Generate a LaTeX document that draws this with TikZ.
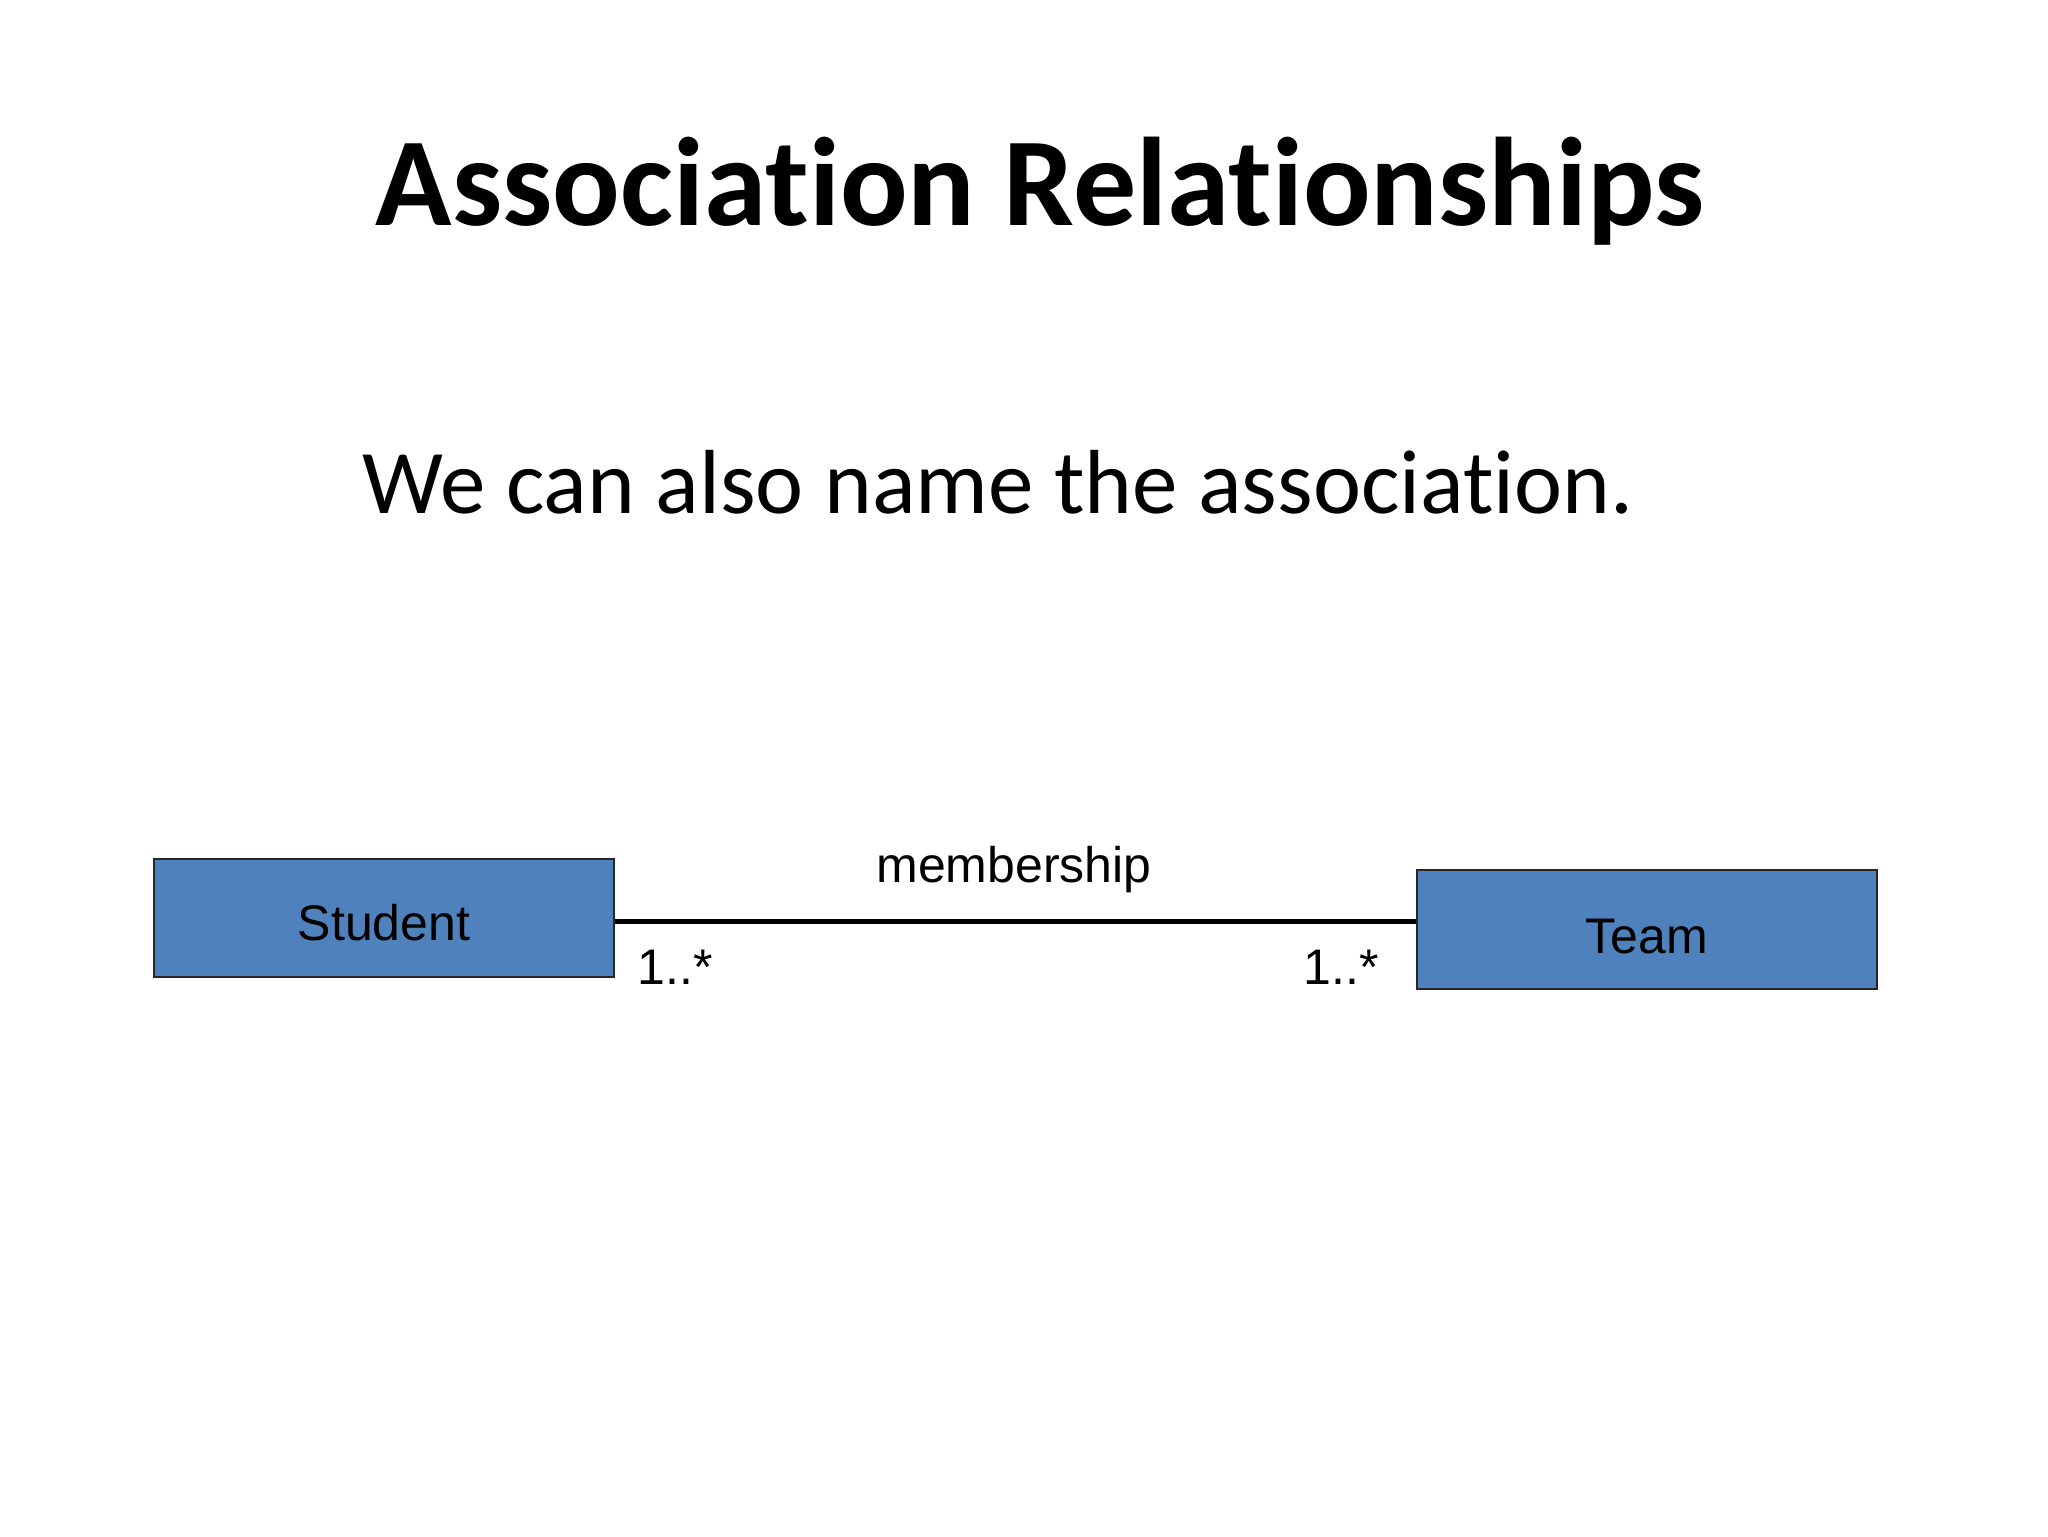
\documentclass[tikz,border=0pt]{standalone}
\usepackage{fontspec}
\setmainfont{Carlito}[Ligatures=NoCommon]
\newfontfamily\arialf{Liberation Sans}
\definecolor{boxblue}{HTML}{4F81BD}
\begin{document}
\begin{tikzpicture}[x=0.5pt,y=-0.5pt,
  classbox/.style={draw=black!85, line width=1pt, fill=boxblue, inner sep=0pt},
  lbl/.style={font=\arialf\fontsize{25}{30}\selectfont, anchor=base, inner sep=0pt},
  assoc/.style={line width=2.5pt, black}]
\useasboundingbox (0,0) rectangle (2048,1536);
\node[font=\bfseries\fontsize{63}{70}\selectfont, anchor=base, inner sep=0pt] (title) at (1040,225) {Association Relationships};
\node[font=\fontsize{45.5}{52}\selectfont, anchor=base, inner sep=0pt] (sub) at (998,513) {We can also name the association.};
\node[classbox, minimum width=460pt/2, minimum height=118pt/2] (student) at (384,918) {};
\node[classbox, minimum width=460pt/2, minimum height=119pt/2] (team) at (1647,929.5) {};
\node[lbl] (studentlbl) at (384,940) {Student};
\node[lbl] (teamlbl) at (1647,953) {Team};
\coordinate (sr) at (student.east |- 0,921);
\coordinate (tl) at (team.west |- 0,921);
\draw[assoc] (sr) -- (tl);
\node[lbl] (name) at (1014,882) {membership};
\node[lbl, anchor=base west] (m1) at (637,984) {1..*};
\node[lbl, anchor=base west] (m2) at (1303,984) {1..*};
\end{tikzpicture}
\end{document}
